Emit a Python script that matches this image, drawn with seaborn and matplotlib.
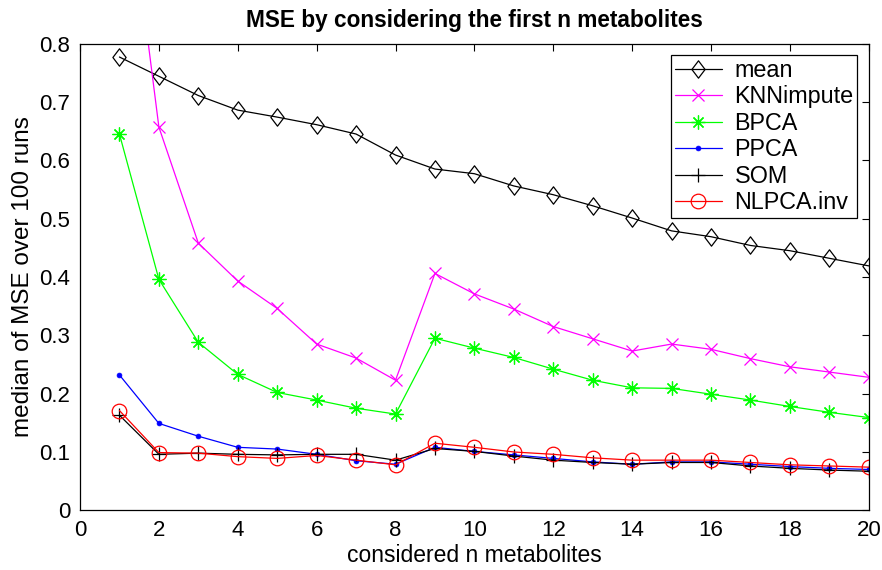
import numpy as np
import pandas as pd
import matplotlib
matplotlib.use("Agg")
import matplotlib.pyplot as plt
from matplotlib.path import Path
import seaborn as sns

n_metabolites = list(range(1, 21))
mean_mse = [0.777, 0.744, 0.711, 0.686, 0.674, 0.661, 0.645, 0.609, 0.585, 0.577,
            0.556, 0.541, 0.522, 0.501, 0.479, 0.469, 0.454, 0.445, 0.432, 0.419]
knn_mse = [1.19, 0.657, 0.458, 0.393, 0.346, 0.285, 0.261, 0.223, 0.406, 0.371,
           0.345, 0.315, 0.294, 0.273, 0.285, 0.276, 0.260, 0.246, 0.237, 0.228]
bpca_mse = [0.645, 0.396, 0.288, 0.233, 0.202, 0.189, 0.175, 0.165, 0.295, 0.278,
            0.262, 0.242, 0.223, 0.210, 0.209, 0.199, 0.189, 0.178, 0.168, 0.159]
ppca_mse = [0.232, 0.149, 0.127, 0.108, 0.105, 0.096, 0.085, 0.079, 0.108, 0.101,
            0.095, 0.089, 0.083, 0.079, 0.083, 0.083, 0.079, 0.075, 0.072, 0.070]
som_mse = [0.163, 0.096, 0.098, 0.096, 0.095, 0.096, 0.096, 0.086, 0.106, 0.101,
           0.093, 0.086, 0.082, 0.079, 0.082, 0.082, 0.076, 0.072, 0.069, 0.067]
nlpca_mse = [0.171, 0.099, 0.098, 0.092, 0.089, 0.094, 0.086, 0.078, 0.115, 0.108,
             0.100, 0.096, 0.090, 0.086, 0.086, 0.086, 0.082, 0.078, 0.076, 0.074]

series_names = ["mean", "KNNimpute", "BPCA", "PPCA", "SOM", "NLPCA.inv"]
series_values = [mean_mse, knn_mse, bpca_mse, ppca_mse, som_mse, nlpca_mse]

sns.set_style("white")
plt.rcParams["font.family"] = ["Liberation Sans", "DejaVu Sans"]
plt.rcParams["text.color"] = "black"
plt.rcParams["axes.labelcolor"] = "black"
plt.rcParams["xtick.color"] = "black"
plt.rcParams["ytick.color"] = "black"

diamond = Path([(0, 1), (0.76, 0), (0, -1), (-0.76, 0), (0, 1)],
               [Path.MOVETO, Path.LINETO, Path.LINETO, Path.LINETO, Path.CLOSEPOLY])

styles = {
    "mean": dict(color="black", marker=diamond, ms=12.5, mfc="none", mew=0.9),
    "KNNimpute": dict(color="#FF00FF", marker="x", ms=8.5, mfc="none", mew=0.9),
    "BPCA": dict(color="#00FF00", marker=(8, 2, 0), ms=10, mew=0.9),
    "PPCA": dict(color="#0000FF", marker="o", ms=3.5, mew=0.5),
    "SOM": dict(color="black", marker="+", ms=10, mew=0.9),
    "NLPCA.inv": dict(color="#FF0000", marker="o", ms=10.5, mfc="none", mew=0.9),
}

fig = plt.figure(figsize=(8.82, 5.70), dpi=100)
ax = fig.add_axes([0.0907, 0.1047, 0.8943, 0.8188])

for name, vals in zip(series_names, series_values):
    df = pd.DataFrame({"n": n_metabolites, "mse": vals})
    st = styles[name]
    sns.lineplot(data=df, x="n", y="mse", ax=ax, color=st["color"], marker=st["marker"],
                 markersize=st["ms"], markerfacecolor=st.get("mfc", st["color"]),
                 markeredgecolor=st["color"], markeredgewidth=st["mew"],
                 linewidth=0.9, label=name)

ax.set_xlim(0, 20)
ax.set_ylim(0, 0.8)
ax.set_xticks(range(0, 21, 2))
ax.set_yticks(np.arange(0, 0.81, 0.1))
ax.set_yticklabels(["0", "0.1", "0.2", "0.3", "0.4", "0.5", "0.6", "0.7", "0.8"])
ax.tick_params(direction="in", top=True, right=True, length=5, width=0.8,
               labelsize=16, pad=7, colors="black", labelcolor="black")
for sp in ax.spines.values():
    sp.set_color("black")
    sp.set_linewidth(0.9)

ax.set_xlabel("considered n metabolites", fontsize=16.5, labelpad=2, color="black")
ax.set_ylabel("median of MSE over 100 runs", fontsize=17.5, labelpad=4, color="black")
ax.set_title("MSE by considering the first n metabolites", fontsize=16.3,
             fontweight="bold", pad=12, color="black")

leg = ax.legend(loc="upper right", fontsize=16.8, frameon=True, fancybox=False,
                edgecolor="black", framealpha=1, handlelength=2.0,
                handletextpad=0.55, borderaxespad=0.5, labelspacing=0.15,
                borderpad=0.15)
leg.get_frame().set_linewidth(0.9)
for t in leg.get_texts():
    t.set_color("black")

fig.savefig("out.png", dpi=100)
